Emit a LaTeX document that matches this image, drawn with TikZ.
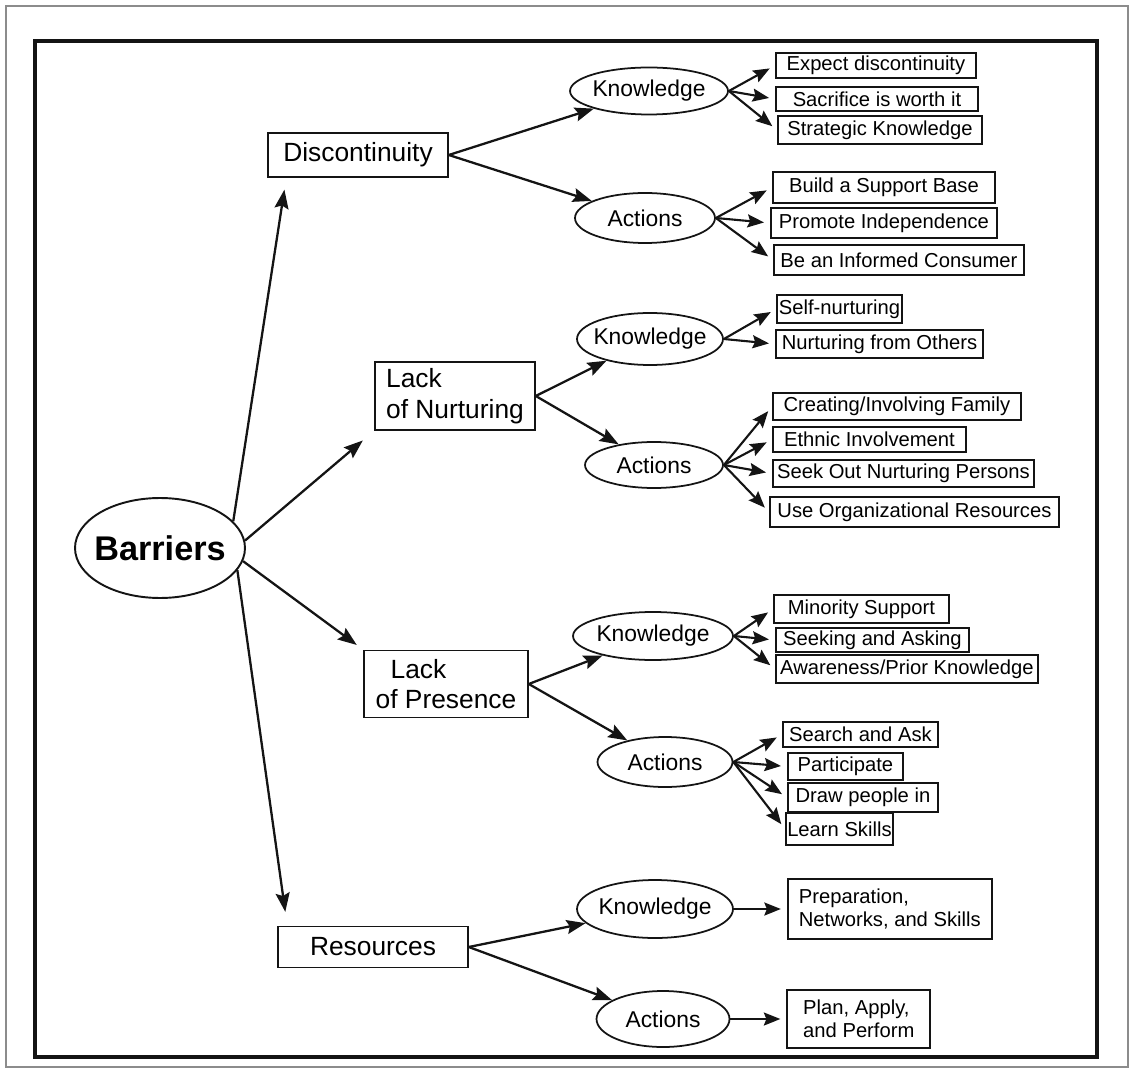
\documentclass[tikz,border=0pt]{standalone}
\usepackage{fontspec}
\setmainfont{Liberation Sans}
\usepackage{xcolor}
\usepackage{tikz}
\usetikzlibrary{positioning,arrows.meta,shapes.geometric}
\definecolor{cnegro}{HTML}{141414}
\definecolor{cgris}{HTML}{8C8C8C}
\tikzset{
  raiz/.style={ellipse, draw=cnegro, line width=1.1pt, inner xsep=-8pt, inner ysep=0pt,
    minimum width=3.4cm, minimum height=2cm, font=\fontsize{19.5}{22}\selectfont\bfseries},
  caja/.style={rectangle, draw=cnegro, line width=0.9pt, align=left, inner sep=0pt,
    font=\fontsize{15}{17.5}\selectfont},
  elipse/.style={ellipse, draw=cnegro, line width=1pt, inner xsep=-4pt, inner ysep=0pt,
    font=\fontsize{13}{15}\selectfont},
  hoja/.style={rectangle, draw=cnegro, line width=1.1pt, anchor=west, align=left, inner sep=0pt,
    font=\fontsize{11.5}{13}\selectfont},
  flecha/.style={-{Stealth[length=3.8mm,width=2.8mm,inset=0.6mm]}, line width=1.3pt, draw=cnegro},
  flechah/.style={-{Stealth[length=3.3mm,width=2.6mm,inset=0.5mm]}, line width=1.2pt, draw=cnegro,
    shorten >=1.2mm},
}
\begin{document}
\begin{tikzpicture}[x=0.02cm, y=-0.02cm]
  \useasboundingbox (0,0) rectangle (1141,1070);
  \draw[cgris, line width=1.6pt] (6,6) rectangle (1128,1067);
  \draw[cnegro, line width=2.4pt] (35,41) rectangle (1097,1057);

  \node[raiz] (barr) at (160,548) {Barriers};
  \node[caja, minimum width=3.6cm, minimum height=0.88cm] (disc) at (358,155) {Discontinuity};
  \node[caja, minimum width=3.2cm, minimum height=1.36cm] (nutr) at (455,396) {Lack\\of Nurturing};
  \node[caja, minimum width=3.28cm, minimum height=1.34cm] (pres) at (446,684) {\hspace{0.3cm}Lack\\of Presence};
  \node[caja, minimum width=3.8cm, minimum height=0.82cm] (recu) at (373,947) {Resources};

  \node[elipse, minimum width=3.16cm, minimum height=0.94cm] (k1) at (649,91) {Knowledge};
  \node[elipse, minimum width=2.8cm, minimum height=1cm] (a1) at (645,218) {Actions};
  \node[elipse, minimum width=2.92cm, minimum height=1.04cm] (k2) at (650,339) {Knowledge};
  \node[elipse, minimum width=2.76cm, minimum height=0.92cm] (a2) at (654,465) {Actions};
  \node[elipse, minimum width=3.2cm, minimum height=0.96cm] (k3) at (653,636) {Knowledge};
  \node[elipse, minimum width=2.7cm, minimum height=1cm] (a3) at (665,762) {Actions};
  \node[elipse, minimum width=3.12cm, minimum height=1.16cm] (k4) at (655,909) {Knowledge};
  \node[elipse, minimum width=2.66cm, minimum height=1.12cm] (a4) at (663,1019) {Actions};

  \node[hoja, minimum width=4cm, minimum height=0.5cm] (h1) at (775,65.5) {Expect discontinuity};
  \node[hoja, minimum width=4.04cm, minimum height=0.48cm] (h2) at (775,99) {Sacrifice is worth it};
  \node[hoja, minimum width=4.08cm, minimum height=0.56cm] (h3) at (777,130) {Strategic Knowledge};
  \node[hoja, minimum width=4.44cm, minimum height=0.62cm] (h4) at (772,187.5) {Build a Support Base};
  \node[hoja, minimum width=4.52cm, minimum height=0.6cm] (h5) at (770,223) {Promote Independence};
  \node[hoja, minimum width=5cm, minimum height=0.6cm] (h6) at (773,260) {Be an Informed Consumer};
  \node[hoja, minimum width=2.5cm, minimum height=0.56cm] (h7) at (776,309) {Self-nurturing};
  \node[hoja, minimum width=4.14cm, minimum height=0.56cm] (h8) at (775,344) {Nurturing from Others};
  \node[hoja, minimum width=4.96cm, minimum height=0.54cm] (h9) at (772,406.5) {Creating/Involving Family};
  \node[hoja, minimum width=3.86cm, minimum height=0.5cm] (h10) at (772,439.5) {Ethnic Involvement};
  \node[hoja, minimum width=5.22cm, minimum height=0.54cm] (h11) at (772,473.5) {Seek Out Nurturing Persons};
  \node[hoja, minimum width=5.78cm, minimum height=0.6cm] (h12) at (769,512) {Use Organizational Resources};
  \node[hoja, minimum width=3.5cm, minimum height=0.56cm] (h13) at (773,609) {Minority Support};
  \node[hoja, minimum width=3.86cm, minimum height=0.48cm] (h14) at (775,640) {Seeking and Asking};
  \node[hoja, minimum width=5.24cm, minimum height=0.56cm] (h15) at (775,669) {Awareness/Prior Knowledge};
  \node[hoja, minimum width=3.1cm, minimum height=0.5cm] (h16) at (782,734.5) {Search and Ask};
  \node[hoja, minimum width=2.3cm, minimum height=0.54cm] (h17) at (787,766.5) {Participate};
  \node[hoja, minimum width=3cm, minimum height=0.58cm] (h18) at (787,797.5) {Draw people in};
  \node[hoja, minimum width=2.14cm, minimum height=0.64cm] (h19) at (785,829) {Learn Skills};
  \node[hoja, right=1.06cm of k4, minimum width=4.08cm, minimum height=1.2cm] (h20) {Preparation,\\Networks, and Skills};
  \node[hoja, right=1.12cm of a4, minimum width=2.86cm, minimum height=1.16cm] (h21) {Plan, Apply,\\and Perform};

  \draw[flecha, shorten >=0.24cm] (barr.20) -- ([xshift=0.38cm]disc.south west);
  \draw[flecha, shorten >=0.3cm] (barr.5) -- (nutr.south west);
  \draw[flecha, shorten >=0.16cm] (barr.351) -- (pres.north west);
  \draw[flecha, shorten >=0.28cm] (barr.344) -- ([xshift=0.2cm]recu.north west);

  \draw[flecha] (disc.east) -- (k1);
  \draw[flecha] (disc.east) -- (a1);
  \draw[flecha] (nutr.east) -- (k2);
  \draw[flecha] (nutr.east) -- (a2);
  \draw[flecha] (pres.east) -- (k3);
  \draw[flecha] (pres.east) -- (a3);
  \draw[flecha] (recu.east) -- (k4);
  \draw[flecha] (recu.east) -- (a4);

  \draw[flechah] (k1.east) -- (h1.west);
  \draw[flechah] (k1.east) -- (h2.west);
  \draw[flechah] (k1.east) -- (h3.west);
  \draw[flechah] (a1.east) -- (h4.west);
  \draw[flechah] (a1.east) -- (h5.west);
  \draw[flechah] (a1.east) -- (h6.west);
  \draw[flechah] (k2.east) -- (h7.west);
  \draw[flechah] (k2.east) -- (h8.west);
  \draw[flechah] (a2.east) -- (h9.west);
  \draw[flechah] (a2.east) -- (h10.west);
  \draw[flechah] (a2.east) -- (h11.west);
  \draw[flechah] (a2.east) -- (h12.west);
  \draw[flechah] (k3.east) -- (h13.west);
  \draw[flechah] (k3.east) -- (h14.west);
  \draw[flechah] (k3.east) -- (h15.west);
  \draw[flechah] (a3.east) -- (h16.west);
  \draw[flechah] (a3.east) -- (h17.west);
  \draw[flechah] (a3.east) -- (h18.west);
  \draw[flechah] (a3.east) -- (h19.west);
  \draw[flechah] (k4.east) -- (h20.west);
  \draw[flechah] (a4.east) -- (h21.west);
\end{tikzpicture}
\end{document}
